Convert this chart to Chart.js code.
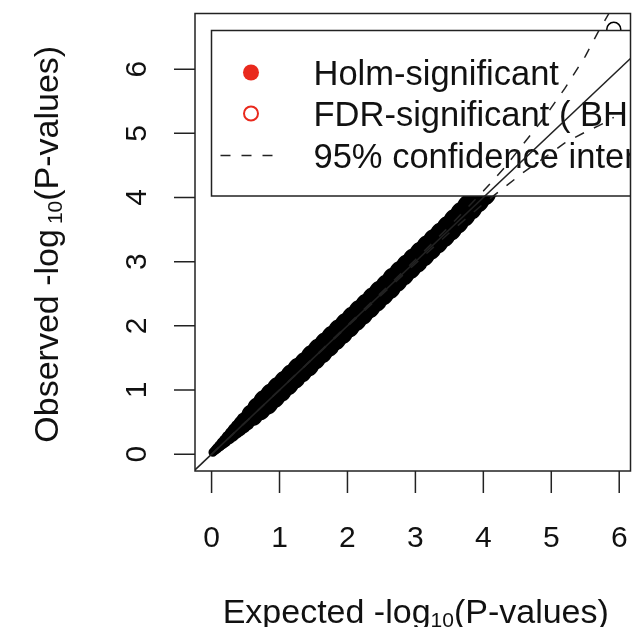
<!DOCTYPE html>
<html>
<head>
<meta charset="utf-8">
<script src="https://cdn.jsdelivr.net/npm/chart.js@4/dist/chart.umd.min.js"></script>
<style>
  html, body { margin: 0; padding: 0; background: #fff; }
  canvas { display: block; }
</style>
</head>
<body>
<canvas id="qq" width="644" height="627"></canvas>
<script>
// expected vs observed -log10(p), sampled along the point cloud
const expected = [0.02, 0.05, 0.08, 0.12, 0.16, 0.2, 0.25, 0.3, 0.35, 0.4, 0.45, 0.5,
  0.6, 0.7, 0.8, 0.9, 1.0, 1.1, 1.2, 1.3, 1.4, 1.5, 1.6, 1.7, 1.8, 1.9, 2.0,
  2.1, 2.2, 2.3, 2.4, 2.5, 2.6, 2.7, 2.8, 2.9, 3.0, 3.1, 3.2, 3.3, 3.4, 3.5,
  3.6, 3.7, 3.8, 3.9, 4.0, 4.1, 4.3, 4.6, 4.9, 5.2, 5.5, 5.92];
const observed = [0.03, 0.06, 0.09, 0.13, 0.17, 0.21, 0.26, 0.31, 0.36, 0.41, 0.46, 0.51,
  0.61, 0.71, 0.81, 0.91, 1.01, 1.11, 1.21, 1.31, 1.40, 1.51, 1.61, 1.71, 1.81, 1.91, 2.01,
  2.11, 2.21, 2.31, 2.41, 2.51, 2.61, 2.72, 2.82, 2.92, 3.02, 3.12, 3.22, 3.32, 3.42, 3.52,
  3.63, 3.74, 3.85, 3.96, 4.07, 4.19, 4.42, 4.78, 5.12, 5.45, 5.85, 6.62];

// 95% confidence band around the null
const ciExpected = [0, 1, 2, 3, 3.5, 4.0, 4.3, 4.6, 4.9, 5.2, 5.5, 5.7, 5.85, 5.92];
const ciUpper    = [0, 1.0, 2.01, 3.03, 3.55, 4.1, 4.45, 4.85, 5.25, 5.7, 6.2, 6.6, 6.87, 7.1];
const ciLower    = [0, 1.0, 1.99, 2.97, 3.45, 3.9, 4.15, 4.4, 4.62, 4.85, 5.02, 5.12, 5.2, 5.25];

// y = x reference line
const diagonal = [-1, 8];

const xTicks = [0, 1, 2, 3, 4, 5, 6];
const yTicks = [0, 1, 2, 3, 4, 5, 6];
const legendLabels = ['Holm-significant', 'FDR-significant ( BH )', '95% confidence interval'];

const FONT = 'Liberation Sans, Arial, Helvetica, sans-serif';
const INK = '#222';
const RED = '#e9291d';

function pts(xs, ys) {
  return xs.map((x, i) => ({ x: x, y: ys[i] }));
}

// title with a subscripted "10", drawn at the current origin, centred
function drawLogTitle(ctx, before, sub, after, size, gap) {
  const main = size + 'px ' + FONT;
  const small = Math.round(size * 0.62) + 'px ' + FONT;
  ctx.font = main;
  const w1 = ctx.measureText(before).width;
  const w3 = ctx.measureText(after).width;
  ctx.font = small;
  const w2 = ctx.measureText(sub).width;
  let x = -(w1 + gap + w2 + w3) / 2;
  ctx.textAlign = 'left';
  ctx.textBaseline = 'alphabetic';
  ctx.font = main;
  ctx.fillText(before, x, 0);
  x += w1 + gap;
  ctx.font = small;
  ctx.fillText(sub, x, 4);
  x += w2;
  ctx.font = main;
  ctx.fillText(after, x, 0);
}

const rPlot = {
  id: 'rPlot',
  // legend sits above the points but below the reference lines
  afterDatasetDraw(chart, args) {
    if (args.index !== 0) return;
    const ctx = chart.ctx;
    const a = chart.chartArea;
    const left = a.left + 16.5, top = a.top + 17;
    ctx.save();
    ctx.beginPath();
    ctx.rect(a.left, a.top, a.right - a.left, a.bottom - a.top);
    ctx.clip();
    ctx.fillStyle = '#fff';
    ctx.fillRect(left, top, 600, 165.5);
    ctx.strokeStyle = INK;
    ctx.lineWidth = 1.5;
    ctx.strokeRect(left, top, 600, 165.5);

    const sx = left + 39.5;
    const rows = [top + 42, top + 83, top + 125];
    // filled red dot
    ctx.fillStyle = RED;
    ctx.beginPath();
    ctx.arc(sx, rows[0], 8, 0, Math.PI * 2);
    ctx.fill();
    // open red circle
    ctx.strokeStyle = RED;
    ctx.lineWidth = 2;
    ctx.beginPath();
    ctx.arc(sx, rows[1], 7, 0, Math.PI * 2);
    ctx.stroke();
    // dashed sample
    ctx.strokeStyle = INK;
    ctx.lineWidth = 1.5;
    ctx.setLineDash([10, 11]);
    ctx.beginPath();
    ctx.moveTo(left + 9, rows[2]);
    ctx.lineTo(left + 68, rows[2]);
    ctx.stroke();
    ctx.setLineDash([]);

    ctx.fillStyle = '#111';
    ctx.font = '34.5px ' + FONT;
    ctx.textAlign = 'left';
    ctx.textBaseline = 'alphabetic';
    legendLabels.forEach((t, i) => ctx.fillText(t, left + 102, rows[i] + 12));
    ctx.restore();
  },
  afterDraw(chart) {
    const ctx = chart.ctx;
    const a = chart.chartArea;
    const xs = chart.scales.x, ys = chart.scales.y;
    ctx.save();
    ctx.strokeStyle = INK;
    ctx.lineWidth = 1.5;
    ctx.strokeRect(a.left, a.top, a.right - a.left, a.bottom - a.top);

    ctx.beginPath();
    xTicks.forEach(v => {
      const px = xs.getPixelForValue(v);
      ctx.moveTo(px, a.bottom);
      ctx.lineTo(px, a.bottom + 22);
    });
    yTicks.forEach(v => {
      const py = ys.getPixelForValue(v);
      ctx.moveTo(a.left, py);
      ctx.lineTo(a.left - 21, py);
    });
    ctx.stroke();

    ctx.fillStyle = '#111';
    ctx.font = '30px ' + FONT;
    ctx.textAlign = 'center';
    ctx.textBaseline = 'alphabetic';
    xTicks.forEach(v => ctx.fillText(String(v), xs.getPixelForValue(v), 547));
    yTicks.forEach(v => {
      ctx.save();
      ctx.translate(146, ys.getPixelForValue(v));
      ctx.rotate(-Math.PI / 2);
      ctx.fillText(String(v), 0, 0);
      ctx.restore();
    });

    ctx.save();
    ctx.translate((a.left + a.right) / 2 + 3, 623);
    drawLogTitle(ctx, 'Expected -log', '10', '(P-values)', 34, 0);
    ctx.restore();

    ctx.save();
    ctx.translate(58, (a.top + a.bottom) / 2 + 2);
    ctx.rotate(-Math.PI / 2);
    drawLogTitle(ctx, 'Observed -log', '10', '(P-values)', 34, 5);
    ctx.restore();

    ctx.restore();
  }
};

new Chart(document.getElementById('qq'), {
  type: 'scatter',
  data: {
    datasets: [
      {
        label: 'observed',
        data: pts(expected, observed),
        order: 3,
        clip: 0,
        pointRadius: ctx => ctx.raw && ctx.raw.y > 6 ? 7 : Math.min(12, 3.5 + 11 * ctx.raw.x),
        pointBackgroundColor: ctx => ctx.raw && ctx.raw.y > 6 ? 'rgba(0,0,0,0)' : '#000',
        pointBorderColor: '#000',
        pointBorderWidth: 1.5,
        pointHoverRadius: 0
      },
      {
        label: 'upper',
        data: pts(ciExpected, ciUpper),
        showLine: true,
        borderColor: INK,
        borderWidth: 1.5,
        borderDash: [10, 11],
        pointRadius: 0,
        order: 2,
        clip: 0
      },
      {
        label: 'lower',
        data: pts(ciExpected, ciLower),
        showLine: true,
        borderColor: INK,
        borderWidth: 1.5,
        borderDash: [10, 11],
        pointRadius: 0,
        order: 2,
        clip: 0
      },
      {
        label: 'y=x',
        data: pts(diagonal, diagonal),
        showLine: true,
        borderColor: INK,
        borderWidth: 1.5,
        pointRadius: 0,
        order: 1,
        clip: 0
      }
    ]
  },
  options: {
    responsive: false,
    animation: false,
    devicePixelRatio: 1,
    events: [],
    layout: { padding: { left: 195, top: 8, right: 11, bottom: 156 } },
    plugins: {
      legend: { display: false },
      tooltip: { enabled: false }
    },
    scales: {
      x: { type: 'linear', min: -0.244, max: 6.166, display: false },
      y: { type: 'linear', min: -0.262, max: 6.867, display: false }
    }
  },
  plugins: [rPlot]
});
</script>
</body>
</html>
